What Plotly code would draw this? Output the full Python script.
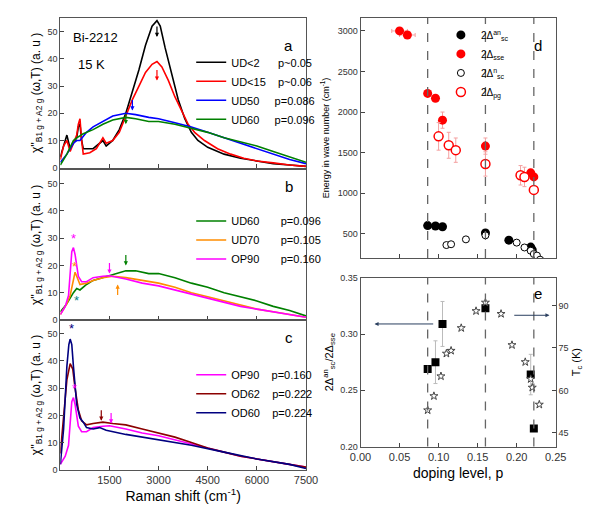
import plotly.graph_objects as go

# ---------- Raman spectra (cm-1, a.u.) ----------
a_k_x = [0,100,200,300,400,500,550,600,650,700,1000,1300,1400,1600,1800,2000,2200,2400,2600,2800,2950,3050,3200,3400,3600,3800,4000,4200,4500,5000,5500,6000,6500,7000,7500]
a_k_y = [4,8,12,7,9,11,15,16,10,7,7,10,8,10,14,20,28,36,45,52,54,52,44,34,25,18,13,10,7.5,5,3.5,2.5,1.5,1,0.5]
a_r_x = [0,100,200,300,400,500,550,600,650,700,900,1100,1300,1400,1600,1800,2000,2200,2400,2600,2800,2950,3100,3300,3500,3700,3900,4100,4400,4800,5200,5600,6000,6500,7000,7500]
a_r_y = [3,8,10,6,9,12,16,18,10,5,5.5,7,11,9,10,13,19,25,30,35,38,39,37,32,26,21,16,13,10,7,5,3.5,2.5,1.8,1,0.5]
a_b_x = [0,200,400,500,600,800,1000,1300,1600,2000,2300,2700,3000,3500,4000,4500,5000,5500,6000,6500,7000,7500]
a_b_y = [2,5,9,10,10,13,15,17,19,20,19.5,18.5,18,16.5,15,13,11,9,7,5,3,1.5]
a_g_x = [0,200,400,500,700,1000,1300,1600,2000,2300,2700,3000,3500,4000,4500,5000,5500,6000,6500,7000,7500]
a_g_y = [1,5,10,11,12.5,14,16,17.5,18.5,18,17,17,16,14.5,13,11,9.5,8,6,4,2]

b_g_x = [0,200,400,500,600,800,1000,1300,1600,2000,2300,2700,3000,3500,4000,4500,5000,5500,6000,6500,7000,7500]
b_g_y = [3,6,10,11.5,11,13,14.5,15.5,16.5,18,18,17,17,15.5,13.5,12,10,8.5,7,5,3.5,1.5]
b_o_x = [0,200,300,400,450,500,600,800,1000,1300,1600,2000,2500,3000,3500,4000,4500,5000,5500,6000,6500,7000,7500]
b_o_y = [2,6,9,14,17.5,16,13,13.5,14.5,15.5,16,15.5,14.5,13.5,12,10,8.5,7,5.5,4,3,2,1]
op_x = [0,150,250,300,350,400,450,550,650,800,1000,1300,1500,2000,2500,3000,3500,4000,4500,5000,5500,6000,6500,7000,7500]
op_y = [2,5,9,18,25,26.5,24,16,14,14,15.5,16,16.2,15,13.5,12.5,11,9.5,8,6.5,5,4,3,2,1]
c_n_x = [0,100,200,260,300,350,400,500,600,700,800,1000,1200,1400,2000,3000,4000,5000,6000,7000,7500]
c_n_y = [2,15,38,46,48,46,38,24,19,17.5,15.5,15,15.5,14.5,13,11,9,6.5,4,2,0.5]
c_br_x = [0,100,200,300,380,450,550,650,800,1000,1300,1600,2000,2500,3000,3500,4000,4500,5000,5500,6000,6500,7000,7500]
c_br_y = [6,20,33,39,37,30,22,18,16.5,17,17.5,17,16.5,15,13.5,12,10,8,6.5,5,4,3,2,1]

# ---------- panel d ----------
sse_p = [0.05,0.06,0.086,0.096,0.105,0.160,0.218,0.222]
sse_e = [3000,2950,2230,2170,1900,1580,1250,1200]
sse_xerr = [0.01,0.01,0,0,0,0,0,0]
sse_err = [0,0,0,0,100,100,0,0]
an_p = [0.086,0.096,0.105,0.160,0.190,0.218,0.220]
an_e = [600,595,585,510,420,335,300]
nsc_p = [0.110,0.116,0.135,0.160,0.200,0.210,0.218,0.222,0.226,0.230]
nsc_e = [360,370,430,480,390,330,290,250,230,180]
pg_p = [0.100,0.113,0.122,0.160,0.205,0.210,0.222]
pg_e = [1700,1590,1530,1360,1220,1200,1040]
pg_err = [170,160,150,150,120,120,0]

# ---------- panel e ----------
rat_p = [0.086,0.096,0.105,0.160,0.218,0.222]
rat = [0.269,0.275,0.309,0.323,0.264,0.216]
rat_err = [0,0.019,0.02,0,0.018,0]
tc_p = [0.086,0.094,0.103,0.110,0.116,0.129,0.148,0.160,0.180,0.194,0.211,0.218,0.220,0.229]
tc = [53,58,65,73,74,82,88,91,87,76,70,64,61,55]

dash_p = [0.086,0.160,0.222]

fig = go.Figure()
LX = [0.072, 0.50]
RX = [0.595, 0.935]
FONT = "Liberation Sans"

def spec(x, y, name, color, xa, ya, leg):
    fig.add_trace(go.Scatter(x=x, y=y, mode="lines", name=name, line=dict(color=color, width=1.6),
                             xaxis=xa, yaxis=ya, legend=leg))

spec(a_k_x, a_k_y, "UD&lt;2      p~0.05", "black", "x", "y", "legend")
spec(a_r_x, a_r_y, "UD&lt;15    p~0.06", "red", "x", "y", "legend")
spec(a_b_x, a_b_y, "UD50     p=0.086", "blue", "x", "y", "legend")
spec(a_g_x, a_g_y, "UD60     p=0.096", "green", "x", "y", "legend")
spec(b_g_x, b_g_y, "UD60       p=0.096", "green", "x2", "y2", "legend2")
spec(b_o_x, b_o_y, "UD70       p=0.105", "#ff8c00", "x2", "y2", "legend2")
spec(op_x, op_y, "OP90       p=0.160", "magenta", "x2", "y2", "legend2")
spec(op_x, op_y, "OP90    p=0.160", "magenta", "x3", "y3", "legend3")
spec(c_br_x, c_br_y, "OD62    p=0.222", "#8b0000", "x3", "y3", "legend3")
spec(c_n_x, c_n_y, "OD60    p=0.224", "#000080", "x3", "y3", "legend3")

fig.add_trace(go.Scatter(x=an_p, y=an_e, mode="markers", name="2Δ<sup>an</sup><sub>sc</sub>",
                         marker=dict(color="black", size=9), xaxis="x4", yaxis="y4", legend="legend4"))
fig.add_trace(go.Scatter(x=sse_p, y=sse_e, mode="markers", name="2Δ<sub>sse</sub>",
                         error_x=dict(array=sse_xerr, color="#f4a0a0", thickness=1, width=2),
                         error_y=dict(array=sse_err, color="#f4a0a0", thickness=1, width=2),
                         marker=dict(color="red", size=9), xaxis="x4", yaxis="y4", legend="legend4"))
fig.add_trace(go.Scatter(x=nsc_p, y=nsc_e, mode="markers", name="2Δ<sup>n</sup><sub>sc</sub>",
                         marker=dict(color="white", size=7, line=dict(color="black", width=1)),
                         xaxis="x4", yaxis="y4", legend="legend4"))
fig.add_trace(go.Scatter(x=pg_p, y=pg_e, mode="markers", name="2Δ<sub>pg</sub>",
                         error_y=dict(array=pg_err, color="#f4a0a0", thickness=1, width=2),
                         marker=dict(color="white", size=9, line=dict(color="red", width=1.5)),
                         xaxis="x4", yaxis="y4", legend="legend4"))
fig.add_trace(go.Scatter(x=rat_p, y=rat, mode="markers", showlegend=False,
                         error_y=dict(array=rat_err, color="#bbbbbb", thickness=1, width=2),
                         marker=dict(color="black", symbol="square", size=8), xaxis="x5", yaxis="y5"))
fig.add_trace(go.Scatter(x=tc_p, y=tc, mode="markers", showlegend=False,
                         marker=dict(color="white", symbol="star", size=6, line=dict(color="#444", width=1)),
                         xaxis="x5", yaxis="y6"))

shapes = []
for p in dash_p:
    for ya in ["y4 domain", "y5 domain"]:
        shapes.append(dict(type="line", xref="x4" if ya == "y4 domain" else "x5", yref=ya, x0=p, x1=p, y0=0, y1=1,
                           line=dict(color="#666", width=1.3, dash="dash")))

ax_common = dict(showline=True, linecolor="#555", mirror=True, ticks="inside", ticklen=4,
                 showgrid=False, zeroline=False, tickfont=dict(size=9, color="#333"))
ylab = "χ''<sub>B1 g + A2 g</sub> (ω,T) (a. u )"

layout = dict(
    width=597, height=506, paper_bgcolor="white", plot_bgcolor="white",
    margin=dict(l=0, r=0, t=0, b=0), font=dict(family=FONT, color="black"),
    xaxis=dict(domain=LX, range=[0, 7500], anchor="y", showticklabels=False, dtick=1500, **ax_common),
    yaxis=dict(domain=[0.688, 0.99], range=[0, 55], dtick=10, anchor="x",
               title=dict(text=ylab, font=dict(size=12), standoff=4), **ax_common),
    xaxis2=dict(domain=LX, range=[0, 7500], anchor="y2", showticklabels=False, dtick=1500, **ax_common),
    yaxis2=dict(domain=[0.381, 0.684], range=[0, 55], dtick=10, anchor="x2",
                title=dict(text=ylab, font=dict(size=12), standoff=4), **ax_common),
    xaxis3=dict(domain=LX, range=[0, 7500], anchor="y3", tickvals=[1500, 3000, 4500, 6000, 7500],
                title=dict(text="Raman shift (cm<sup>-1</sup>)", font=dict(size=14), standoff=4),
                **{**ax_common, "tickfont": dict(size=11, color="#333")}),
    yaxis3=dict(domain=[0.079, 0.381], range=[0, 55], dtick=10, anchor="x3",
                title=dict(text=ylab, font=dict(size=12), standoff=4), **ax_common),
    xaxis4=dict(domain=RX, range=[0, 0.25], dtick=0.05, anchor="y4", showticklabels=False, **ax_common),
    yaxis4=dict(domain=[0.506, 0.99], range=[200, 3160], dtick=500, anchor="x4",
                title=dict(text="Energy in wave number (cm<sup>-1</sup>)", font=dict(size=9), standoff=6), **ax_common),
    xaxis5=dict(domain=RX, range=[0, 0.25], dtick=0.05, anchor="y5", tickformat=".2f",
                title=dict(text="doping level, p", font=dict(size=14), standoff=6),
                **{**ax_common, "tickfont": dict(size=11, color="#333")}),
    yaxis5=dict(domain=[0.126, 0.466], range=[0.20, 0.35], dtick=0.05, tickformat=".2f", anchor="x5",
                title=dict(text="2Δ<sup>an</sup><sub>sc</sub>/2Δ<sub>sse</sub>", font=dict(size=11), standoff=4),
                **{**ax_common, "mirror": False}),
    yaxis6=dict(overlaying="y5", side="right", anchor="x5", range=[40.2, 99.7], dtick=15,
                title=dict(text="T<sub>c</sub> (K)", font=dict(size=11), standoff=4),
                **{**ax_common, "mirror": False}),
    legend=dict(x=0.30, y=0.93, xanchor="left", yanchor="top", bgcolor="rgba(0,0,0,0)",
                font=dict(size=11), tracegroupgap=0, itemwidth=30),
    legend2=dict(x=0.30, y=0.61, xanchor="left", yanchor="top", bgcolor="rgba(0,0,0,0)",
                 font=dict(size=11), itemwidth=30),
    legend3=dict(x=0.30, y=0.30, xanchor="left", yanchor="top", bgcolor="rgba(0,0,0,0)",
                 font=dict(size=11), itemwidth=30),
    legend4=dict(x=0.735, y=0.985, xanchor="left", yanchor="top", bgcolor="rgba(0,0,0,0)",
                 font=dict(size=10), itemwidth=30),
    shapes=shapes,
)
fig.update_layout(**layout)

ann = [
    dict(text="Bi-2212", x=0.09, y=0.97, xref="paper", yref="paper", showarrow=False, font=dict(size=13), xanchor="left"),
    dict(text="15 K", x=0.10, y=0.915, xref="paper", yref="paper", showarrow=False, font=dict(size=13), xanchor="left"),
    dict(text="a", x=0.47, y=0.955, xref="paper", yref="paper", showarrow=False, font=dict(size=15)),
    dict(text="b", x=0.47, y=0.65, xref="paper", yref="paper", showarrow=False, font=dict(size=15)),
    dict(text="c", x=0.47, y=0.345, xref="paper", yref="paper", showarrow=False, font=dict(size=15)),
    dict(text="d", x=0.915, y=0.955, xref="paper", yref="paper", showarrow=False, font=dict(size=15)),
    dict(text="e", x=0.915, y=0.435, xref="paper", yref="paper", showarrow=False, font=dict(size=15)),
]
for xa, ya, x, y, c in [("x", "y", 2950, 48, "black"), ("x", "y", 2950, 32, "red"), ("x", "y", 2200, 21, "blue"),
                         ("x", "y", 2000, 16, "green"), ("x2", "y2", 2000, 20, "green"), ("x2", "y2", 1500, 17, "magenta"),
                         ("x3", "y3", 1250, 18, "#8b0000"), ("x3", "y3", 1550, 17, "magenta")]:
    ann.append(dict(x=x, y=y, xref=xa, yref=ya, ax=0, ay=-12, showarrow=True, arrowhead=2, arrowsize=0.7,
                    arrowwidth=1.2, arrowcolor=c, text=""))
ann.append(dict(x=1750, y=13, xref="x2", yref="y2", ax=0, ay=12, showarrow=True, arrowhead=2, arrowsize=0.7,
                arrowwidth=1.2, arrowcolor="#ff8c00", text=""))
for xa, ya, x, y, c in [("x2", "y2", 400, 30, "magenta"), ("x2", "y2", 420, 19.5, "#ff8c00"), ("x2", "y2", 480, 7, "teal"),
                         ("x3", "y3", 350, 52, "#000080"), ("x3", "y3", 440, 30, "magenta")]:
    ann.append(dict(x=x, y=y, xref=xa, yref=ya, showarrow=False, text="*", font=dict(size=13, color=c)))
ann.append(dict(x=0.018, y=0.309, ax=0.095, ay=0.309, xref="x5", yref="y5", axref="x5", ayref="y5",
                showarrow=True, arrowhead=2, arrowsize=0.8, arrowwidth=1, text=""))
ann.append(dict(x=0.242, y=86.5, ax=0.195, ay=86.5, xref="x5", yref="y6", axref="x5", ayref="y6",
                showarrow=True, arrowhead=2, arrowsize=0.8, arrowwidth=1, text=""))
fig.update_layout(annotations=ann)

fig.write_html("out.html")
